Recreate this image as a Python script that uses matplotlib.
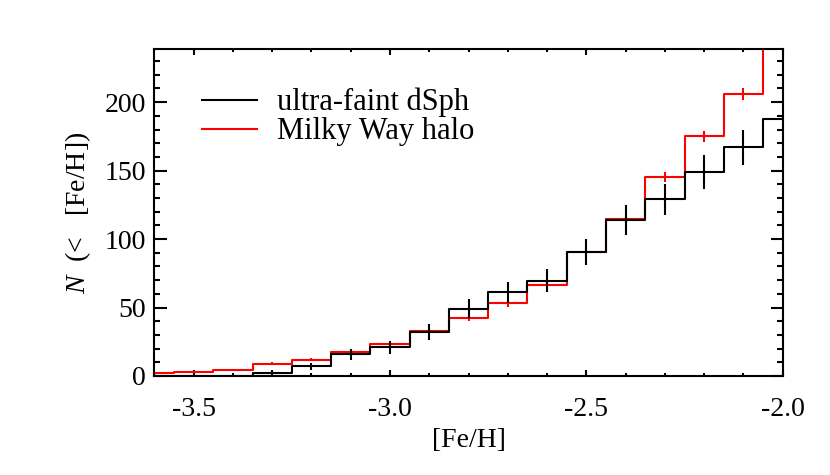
"""Cumulative [Fe/H] distribution: ultra-faint dSph vs Milky Way halo."""

import numpy as np
import matplotlib
matplotlib.use("Agg")
import matplotlib.pyplot as plt
from matplotlib.ticker import MultipleLocator

# bin centres in [Fe/H]
feh = [-3.6, -3.5, -3.4, -3.3, -3.2, -3.1, -3.0, -2.9, -2.8,
       -2.7, -2.6, -2.5, -2.4, -2.3, -2.2, -2.1, -2.0]

# cumulative counts
n_dsph = [0, 0, 0, 2.5, 7, 16, 21, 32, 49,
          61, 69.5, 90.5, 114, 129, 149, 167, 188]
err_dsph = [0, 0, 0, 1.6, 2.6, 4.0, 4.6, 5.7, 7.0,
            7.8, 8.3, 9.5, 10.7, 11.4, 12.2, 12.9, 13.7]

n_halo = [2.2, 3, 4.5, 9, 12, 17.5, 23.5, 33, 42.5,
          53, 66.5, 90.5, 114.5, 145.5, 175, 206, 260]
err_halo = [0.5, 0.5, 0.7, 0.9, 1.1, 1.3, 1.5, 1.8, 2.0,
            2.3, 2.5, 3.0, 3.3, 3.8, 4.1, 4.5, 5.0]

plt.rcParams['font.family'] = ['Liberation Serif', 'DejaVu Serif']
plt.rcParams['mathtext.fontset'] = 'custom'
plt.rcParams['mathtext.it'] = 'Liberation Serif:italic'
plt.rcParams['mathtext.rm'] = 'Liberation Serif'

fig = plt.figure(figsize=(8.3, 4.75), dpi=100)
ax = fig.add_axes([0.186, 0.2085, 0.757, 0.6875])

ax.step(feh, n_halo, where='mid', color='red', lw=1.5, label='Milky Way halo')
ax.errorbar(feh[:-1], n_halo[:-1], yerr=err_halo[:-1], fmt='none',
            ecolor='red', elinewidth=1.5, capsize=0)
ax.step(feh, n_dsph, where='mid', color='black', lw=1.5, label='ultra-faint dSph')
ax.errorbar(feh[:-1], n_dsph[:-1], yerr=err_dsph[:-1], fmt='none',
            ecolor='black', elinewidth=1.5, capsize=0)

ax.set_xlim(-3.6, -2.0)
ax.set_ylim(0, 238.5)

ax.xaxis.set_major_locator(MultipleLocator(0.5))
ax.xaxis.set_minor_locator(MultipleLocator(0.1))
ax.yaxis.set_major_locator(MultipleLocator(50))
ax.yaxis.set_minor_locator(MultipleLocator(10))
ax.set_xticks([-3.5, -3.0, -2.5, -2.0])
ax.set_xticklabels(['-3.5', '-3.0', '-2.5', '-2.0'])

ax.tick_params(axis='both', which='both', direction='in', top=True, right=True,
               width=1.5, labelsize=20)
ax.tick_params(axis='x', which='major', length=4.5, pad=15.5)
ax.tick_params(axis='x', which='minor', length=2.3)
ax.tick_params(axis='y', which='major', length=9, pad=6)
ax.tick_params(axis='y', which='minor', length=4.5)
for s in ax.spines.values():
    s.set_linewidth(1.5)

ax.set_xlabel('[Fe/H]', fontsize=20, labelpad=4)
ax.set_ylabel(r'$N$  (<   [Fe/H])', fontsize=20, labelpad=8)

handles, labels = ax.get_legend_handles_labels()
ax.legend(handles[::-1], labels[::-1], loc='upper left', frameon=False,
          fontsize=22, handlelength=1.83, handletextpad=0.65, labelspacing=0.0,
          borderpad=0, borderaxespad=0, bbox_to_anchor=(0.075, 0.882))

fig.savefig('out.png', dpi=100)
